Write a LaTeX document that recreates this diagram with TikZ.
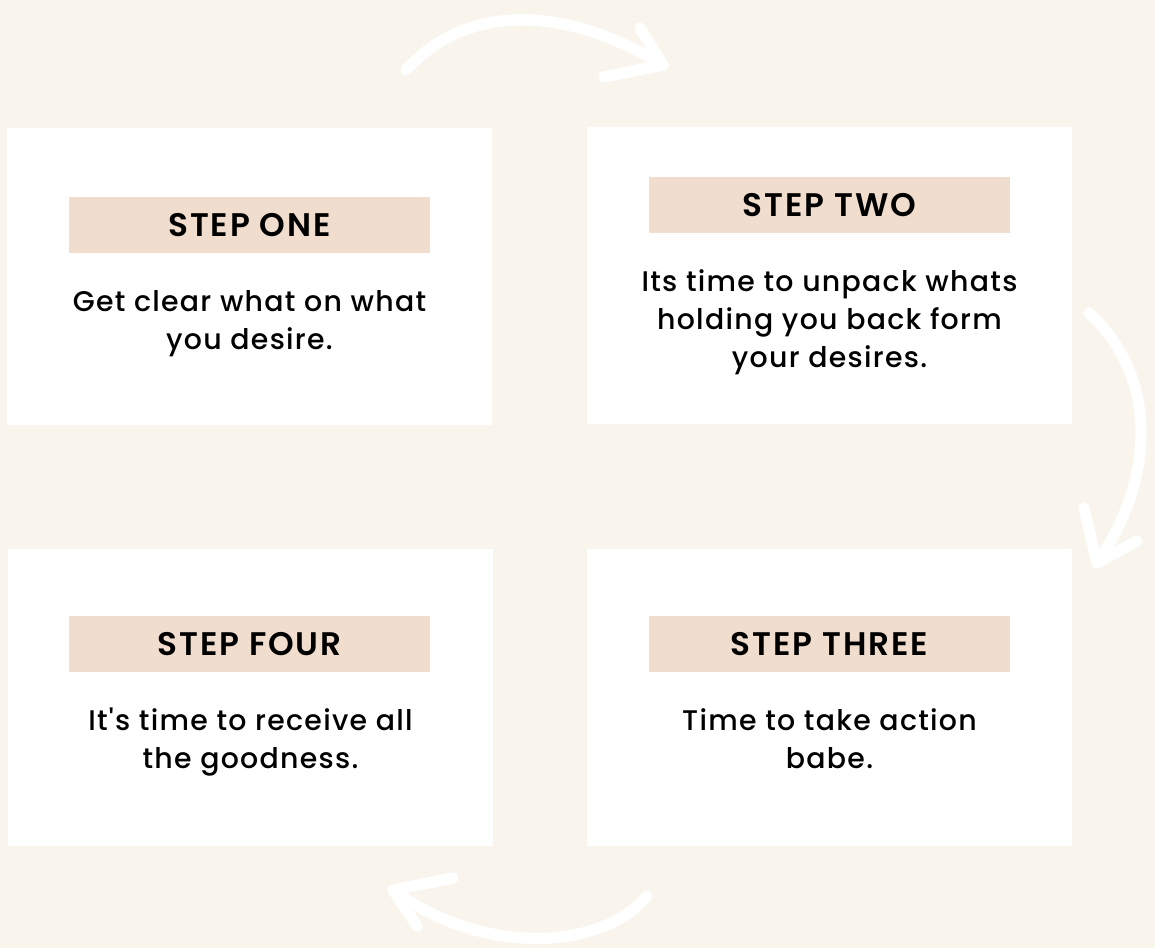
\documentclass[tikz,border=0pt]{standalone}
\usepackage{fontspec}
\setmainfont{Poppins}
\newfontfamily\stepfont{Poppins}[LetterSpace=6, BoldFont={Poppins SemiBold}]
\newfontfamily\bodyfont{Poppins Medium}[LetterSpace=4.5]
\usepackage{xcolor}
\usetikzlibrary{positioning}

\definecolor{paper}{HTML}{F9F4EC}
\definecolor{tag}{HTML}{F0DDCE}

\tikzset{
  card/.style={fill=white, minimum width=363.75pt, minimum height=222.75pt, inner sep=0pt},
  tagbox/.style={fill=tag, minimum width=270.75pt, minimum height=42pt, inner sep=0pt,
    font=\stepfont\bfseries\fontsize{24.5}{28}\selectfont},
  blurb/.style={align=center, font=\bodyfont\fontsize{21.3}{28.5}\selectfont},
  brush/.style={white, line width=8.5pt, line cap=round, line join=round}
}

\begin{document}
\begin{tikzpicture}[x=0.75pt, y=-0.75pt]
  % canvas
  \fill[paper] (0,0) rectangle (1155,948);
  \useasboundingbox (0,0) rectangle (1155,948);

  % the four cards
  \node[card] (one)   at (249.5,276.5) {};
  \node[card] (two)   at (829.5,275.5) {};
  \node[card] (four)  at (250.5,697.5) {};
  \node[card] (three) at (829.5,697.5) {};

  % step tags
  \node[tagbox] (tagone)   at (249.5,225) {STEP ONE};
  \node[tagbox] (tagtwo)   at (829.5,205) {STEP TWO};
  \node[tagbox] (tagfour)  at (249.5,644) {STEP FOUR};
  \node[tagbox] (tagthree) at (829.5,644) {STEP THREE};

  % text under the tags
  \node[blurb] (txtone)   at (249.5,324) {Get clear what on what\\you desire.};
  \node[blurb] (txttwo)   at (829.5,322.5) {Its time to unpack whats\\holding you back form\\your desires.};
  \node[blurb] (txtfour)  at (250.5,742) {It's time to receive all\\the goodness.};
  \node[blurb] (txtthree) at (829.5,739) {Time to take action\\babe.};

  % hand drawn arrows between the cards
  \coordinate (topa) at (406,70);
  \coordinate (topb) at (663,65);
  \draw[brush] (topa) .. controls (470,0) and (570,8) .. (topb);
  \draw[brush] (640,28) -- (topb) -- (604,77);

  \coordinate (righta) at (1089,313);
  \coordinate (rightb) at (1097,563);
  \draw[brush] (righta) .. controls (1162,380) and (1152,485) .. (rightb);
  \draw[brush] (1084,508) -- (rightb) -- (1137,541);

  \coordinate (bota) at (647,896);
  \coordinate (botb) at (393,890);
  \draw[brush] (bota) .. controls (600,952) and (480,955) .. (botb);
  \draw[brush] (453,878) -- (botb) -- (417,926);
\end{tikzpicture}
\end{document}
